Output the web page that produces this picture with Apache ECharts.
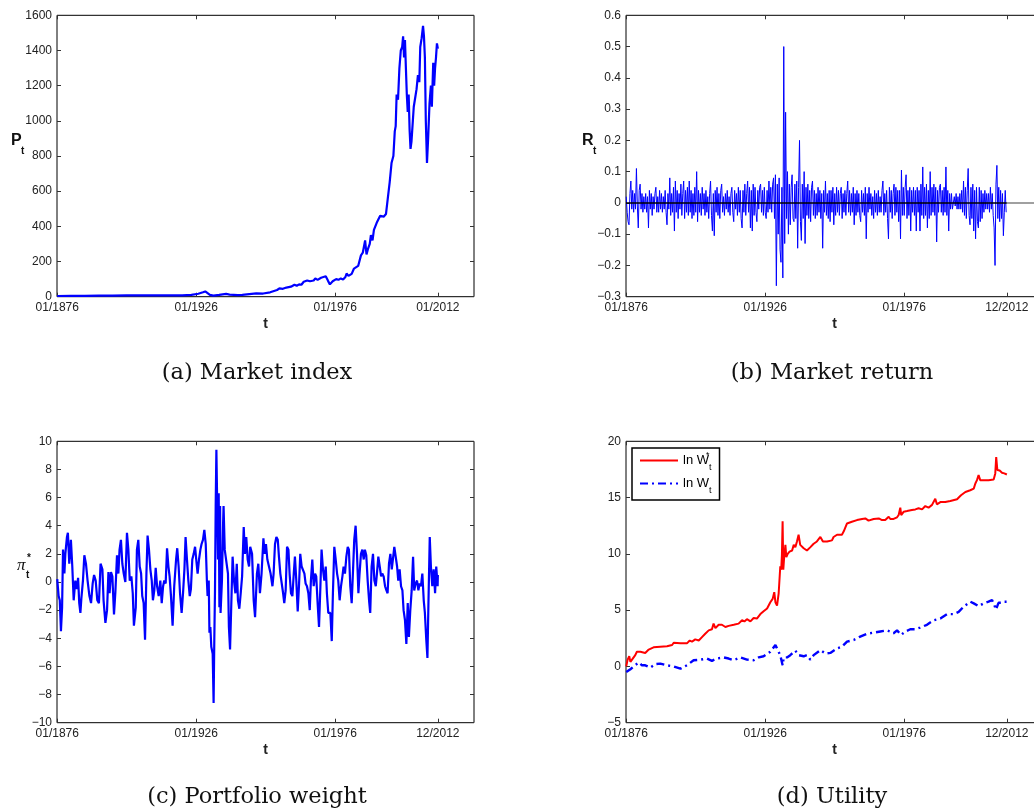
<!DOCTYPE html>
<html><head><meta charset="utf-8">
<script src="https://cdn.jsdelivr.net/npm/echarts@6/dist/echarts.min.js"></script>
<style>html,body{margin:0;padding:0;background:#fff}#c{width:1034px;height:811px}</style>
</head><body><div id="c"></div>
<script>
// ---------- axis ticks ----------
const xTickMonths = [1, 601, 1201, 1644];
const xTickLabelsA = ['01/1876', '01/1926', '01/1976', '01/2012'];
const xTickLabelsB = ['01/1876', '01/1926', '01/1976', '12/2012'];
const subCaptions = ['(a) Market index', '(b) Market return', '(c) Portfolio weight', '(d) Utility'];

// ---------- (a) market index: [month index, P_t] ----------
const indexPoints = [[1,4],[60,5],[120,5],[180,6],[240,6],[300,7],[360,7],[420,8],[480,7],[540,8],[580,10],[610,17],[630,25],[640,30],[648,22],[660,10],[675,6],[700,10],[730,16],[745,12],[780,9],[800,10],[830,15],[860,19],[890,18],[920,25],[950,38],[960,47],[975,45],[990,52],[1010,57],[1025,68],[1035,62],[1045,70],[1055,68],[1065,85],[1080,92],[1092,88],[1100,98],[1108,92],[1115,104],[1125,96],[1140,108],[1150,112],[1160,116],[1170,90],[1178,70],[1190,88],[1205,100],[1215,96],[1225,104],[1235,98],[1245,112],[1250,132],[1258,118],[1265,112],[1272,130],[1282,160],[1290,155],[1300,175],[1312,235],[1320,250],[1330,320],[1336,240],[1342,270],[1350,300],[1355,350],[1362,320],[1368,380],[1380,420],[1395,460],[1410,455],[1420,470],[1428,560],[1436,650],[1444,760],[1452,800],[1458,940],[1462,970],[1466,1150],[1472,1120],[1478,1300],[1484,1400],[1490,1420],[1494,1480],[1498,1360],[1502,1460],[1506,1300],[1510,1150],[1514,1050],[1518,1150],[1522,950],[1526,840],[1530,880],[1536,1000],[1540,1080],[1546,1130],[1552,1180],[1558,1260],[1564,1220],[1568,1420],[1574,1470],[1580,1540],[1584,1480],[1588,1360],[1592,1000],[1597,760],[1602,900],[1608,1100],[1614,1200],[1618,1080],[1624,1330],[1628,1200],[1632,1300],[1636,1360],[1640,1440],[1644,1410]];

// ---------- (b) market return: one value every 4 months starting at month 1 ----------
const returnStart = 1;
const returnStep = 4;
const returnValues = [
0.02,-0.03,-0.06,-0.07,0.03,0.07,-0.02,0.04,-0.03,0.03,
-0.02,0.11,-0.01,-0.08,0.04,0.06,-0.02,0.03,-0.03,0.02,
-0.02,0.03,-0.03,0.02,-0.08,0.04,-0.02,0.03,-0.04,0.02,
-0.02,0.03,0.05,-0.03,0.02,-0.03,0.04,-0.02,0.03,-0.03,
0.02,-0.02,0.04,-0.03,-0.07,0.03,-0.02,0.08,-0.04,0.03,
-0.03,0.05,-0.09,0.07,-0.03,0.04,-0.05,0.03,-0.02,0.06,
-0.04,0.03,0.07,-0.05,0.04,-0.03,0.05,-0.04,0.07,-0.03,
0.04,-0.05,0.03,-0.04,0.05,-0.03,0.10,-0.06,0.04,-0.03,
0.03,-0.04,0.05,-0.02,0.03,-0.04,0.04,-0.03,0.02,-0.05,
0.03,0.07,-0.04,-0.09,0.03,-0.105,0.04,-0.03,0.05,-0.04,
0.03,-0.05,0.04,0.06,-0.03,0.02,-0.04,0.03,-0.02,0.04,
-0.03,0.02,-0.04,0.03,0.05,-0.03,-0.06,0.04,-0.02,0.03,
-0.04,0.05,-0.03,0.04,-0.05,-0.08,0.04,-0.03,0.06,-0.04,
0.03,0.07,-0.03,0.05,-0.08,0.04,-0.09,0.06,-0.04,0.05,
-0.03,-0.06,0.04,-0.02,0.05,0.06,-0.03,0.04,-0.04,0.05,
-0.03,-0.05,0.04,-0.03,0.07,-0.02,0.05,-0.03,0.06,0.08,
-0.05,0.09,-0.265,0.06,-0.10,0.08,-0.15,-0.19,0.05,-0.24,
0.50,-0.13,0.29,-0.05,0.10,-0.10,0.06,-0.07,0.05,0.09,
-0.05,-0.06,0.06,-0.05,0.07,-0.145,0.05,0.20,-0.06,-0.12,
0.06,-0.05,0.10,-0.13,0.05,-0.04,0.06,-0.05,0.04,-0.06,
0.05,0.07,-0.04,0.04,-0.05,0.03,-0.04,0.05,-0.03,0.04,
-0.05,0.03,-0.145,0.04,-0.03,0.07,-0.04,0.03,-0.05,0.04,
-0.06,0.04,-0.03,0.05,-0.07,0.03,-0.04,0.05,-0.03,0.04,
-0.04,0.03,0.05,-0.05,0.03,-0.03,0.04,-0.04,0.03,0.07,
-0.03,0.04,-0.04,0.03,-0.03,0.05,-0.07,0.03,-0.04,0.04,
-0.03,0.03,-0.04,-0.06,0.04,-0.03,0.03,-0.04,0.05,-0.115,
0.03,-0.03,0.05,-0.02,0.03,-0.04,0.02,-0.05,0.04,-0.03,
0.03,-0.04,0.04,-0.03,0.02,-0.03,0.04,0.07,-0.04,0.03,
-0.03,0.04,-0.05,-0.115,0.05,-0.03,0.04,-0.05,0.03,0.06,
-0.04,0.05,-0.03,0.04,-0.06,0.04,-0.115,0.105,-0.04,0.05,
-0.04,0.05,0.09,-0.05,0.04,-0.04,0.05,-0.09,0.04,-0.03,
0.05,-0.04,0.04,-0.09,0.05,-0.03,0.04,-0.09,0.06,-0.04,
0.115,-0.05,0.05,-0.04,0.06,-0.08,0.04,-0.05,0.10,-0.04,
0.05,-0.03,0.06,-0.04,0.05,-0.125,0.04,-0.03,0.05,0.06,
-0.03,0.04,-0.04,0.05,-0.03,0.115,-0.04,0.04,-0.09,0.03,
-0.02,0.03,-0.02,-0.02,0.02,-0.01,0.03,-0.02,0.02,-0.02,
0.03,-0.02,0.04,-0.03,0.07,-0.04,0.05,-0.05,0.04,0.11,
-0.04,-0.07,0.05,-0.05,0.06,-0.09,0.04,-0.115,0.05,-0.06,
-0.08,0.05,-0.06,0.04,-0.05,0.03,-0.03,0.04,-0.02,0.03,
-0.02,0.03,-0.03,0.05,-0.02,0.03,-0.04,-0.08,-0.20,0.06,
0.12,-0.05,0.05,-0.06,0.04,-0.05,0.03,-0.105,-0.03,0.04,
-0.03];
const zeroLevel = 0;

// ---------- (c) portfolio weight: [month index, pi*_t] ----------
const weightPoints = [[1,0.2],[7,-1.0],[12,-1.3],[17,-3.5],[22,-1.8],[26,2.3],[32,0.6],[36,2.0],[43,3.2],[47,3.5],[53,1.3],[60,3.0],[66,1.1],[72,-1.3],[79,0.1],[86,-0.5],[91,0.3],[96,-1.5],[101,-2.2],[105,-1.2],[112,0.1],[118,1.9],[125,1.3],[132,0.1],[140,-1.0],[147,-1.5],[154,-0.1],[160,0.5],[167,0.1],[174,-1.3],[181,-1.5],[188,1.3],[196,0.9],[201,-1.3],[209,-2.9],[216,-2.0],[222,0.7],[227,-0.8],[233,0.7],[239,0.4],[246,-2.3],[252,-0.7],[259,1.9],[265,0.6],[270,2.3],[276,3.0],[282,1.3],[288,0.6],[295,0],[302,3.5],[308,2.3],[314,0.1],[321,0.4],[327,-0.8],[332,-3.1],[340,-1.8],[345,2.3],[351,3.0],[357,1.1],[363,0.6],[368,-1.0],[374,-1.5],[380,-4.1],[386,0.6],[391,3.3],[397,2.3],[403,0.9],[409,0.1],[414,-1.3],[420,-0.6],[426,1.0],[432,-0.3],[439,-1.0],[446,0.1],[452,-1.5],[458,-0.3],[463,0.1],[469,-0.1],[475,2.4],[481,1.1],[486,0.4],[492,-1.0],[499,-3.1],[506,-0.3],[514,1.6],[519,2.4],[525,1.1],[531,-0.8],[538,-2.2],[544,-0.8],[550,0.9],[555,3.2],[561,1.6],[567,0.1],[573,-1.0],[578,-0.5],[584,1.6],[590,2.0],[596,2.5],[601,1.6],[607,0.6],[613,1.6],[619,2.3],[624,2.7],[630,3.0],[636,3.7],[642,2.7],[647,0.1],[650,-1.0],[655,0.1],[658,-3.6],[662,-3.2],[666,-4.6],[672,-5.1],[676,-8.6],[679,-4.1],[682,-0.6],[685,5.4],[688,9.4],[692,9.4],[695,1.6],[698,6.3],[701,-1.8],[704,5.4],[706,-2.2],[712,0.1],[717,4.2],[719,5.4],[724,2.3],[731,2.3],[738,0.6],[742,-3.2],[747,-4.8],[752,-1.8],[758,1.8],[764,0.1],[770,-0.8],[776,1.3],[781,-1.3],[787,-1.9],[793,-0.8],[799,0.4],[806,3.9],[811,2.0],[817,3.2],[823,1.6],[829,1.1],[834,2.5],[842,2.0],[849,-1.3],[855,-2.5],[863,0.6],[869,1.3],[876,-0.8],[883,0.6],[891,3.1],[896,2.0],[902,2.7],[908,1.6],[915,1.1],[922,0.6],[930,-0.3],[935,0.6],[941,2.7],[947,3.2],[953,3.0],[958,1.8],[964,0.6],[970,-0.1],[976,-0.8],[981,-1.5],[987,-0.6],[993,2.5],[999,2.3],[1004,0.6],[1010,-0.8],[1016,-1.0],[1022,0.6],[1027,1.8],[1033,0.1],[1039,-2.1],[1045,-0.1],[1050,2.0],[1056,1.1],[1062,1.2],[1068,0.6],[1073,-0.1],[1079,-0.3],[1085,-0.8],[1091,-2.0],[1096,0.1],[1102,1.6],[1108,-0.3],[1114,0.6],[1119,0.4],[1125,-1.5],[1131,-3.2],[1137,-0.3],[1142,2.3],[1148,0.9],[1154,0.1],[1160,1.1],[1165,-0.8],[1171,-2.2],[1180,-2.2],[1186,-4.2],[1191,-0.8],[1197,2.5],[1203,1.6],[1209,0.6],[1214,0.1],[1220,-1.3],[1226,-0.3],[1232,0.4],[1237,1.1],[1243,0.6],[1249,1.8],[1255,2.5],[1260,2.3],[1266,-0.3],[1272,-1.5],[1278,0.9],[1283,3.0],[1289,4.0],[1295,2.0],[1301,-0.8],[1306,0.6],[1312,2.0],[1318,2.3],[1324,1.6],[1329,2.3],[1335,1.9],[1341,0.1],[1347,-1.3],[1352,-2.2],[1358,1.1],[1364,2.0],[1370,0.1],[1376,-0.3],[1381,0.6],[1387,1.8],[1393,1.1],[1399,0.4],[1404,0.6],[1410,0.4],[1416,-0.3],[1422,-0.6],[1427,-0.8],[1433,1.3],[1439,2.0],[1445,0.9],[1450,1.6],[1456,2.5],[1462,2.5],[1468,1.1],[1473,0.1],[1479,0.9],[1485,-0.3],[1491,-0.6],[1496,-2.0],[1502,-2.7],[1508,-4.4],[1514,-1.5],[1519,-3.9],[1525,-2.0],[1531,-0.6],[1537,1.8],[1542,-0.6],[1548,-0.1],[1554,0.1],[1560,-0.6],[1565,-0.1],[1571,-0.3],[1577,0.6],[1583,-1.3],[1588,-2.2],[1594,-4.1],[1599,-5.4],[1603,-1.8],[1609,3.2],[1614,1.1],[1620,-0.3],[1626,0.9],[1632,-0.8],[1637,1.1],[1643,-0.3],[1644,0.5]];

// ---------- (d) utility: [month index, ln W*_t] and [month index, ln W_t] ----------
const optWealthPoints = [[1,0],[7,0.6],[14,0.9],[19,0.4],[26,0.6],[40,1.0],[47,1.3],[55,1.2],[62,1.3],[69,1.2],[83,1.2],[98,1.5],[119,1.7],[148,1.75],[177,1.8],[199,1.9],[206,2.1],[213,2.0],[235,2.05],[263,2.05],[275,2.3],[285,2.2],[299,2.4],[314,2.3],[328,2.6],[342,2.9],[357,3.2],[371,3.3],[378,3.8],[386,3.4],[400,3.7],[414,3.7],[429,3.5],[443,3.6],[465,3.7],[486,3.8],[501,4.1],[511,4.0],[522,4.2],[537,4.0],[551,4.3],[565,4.25],[580,4.65],[594,4.9],[609,5.15],[623,5.7],[633,6.0],[640,6.6],[645,5.7],[652,5.4],[659,6.5],[666,8.9],[670,8.6],[673,9.9],[676,12.9],[679,8.6],[682,9.5],[688,10.8],[692,9.7],[698,10.0],[706,10.2],[717,10.3],[724,10.8],[731,10.6],[738,11.1],[745,11.7],[752,10.8],[767,10.5],[781,10.3],[796,10.6],[810,10.9],[824,11.1],[839,11.5],[850,11.1],[868,11.1],[889,11.2],[896,11.5],[911,11.7],[932,11.7],[940,12.0],[954,12.7],[975,12.85],[997,13.0],[1019,13.1],[1033,13.15],[1047,12.95],[1069,13.1],[1091,13.15],[1105,13.0],[1119,13.0],[1134,13.3],[1141,13.1],[1155,13.1],[1170,13.25],[1177,13.45],[1184,14.1],[1188,13.45],[1199,13.75],[1213,13.8],[1234,13.9],[1249,13.95],[1263,14.05],[1278,13.95],[1292,14.25],[1306,14.1],[1321,14.35],[1335,14.9],[1342,14.4],[1357,14.6],[1378,14.6],[1400,14.7],[1429,14.85],[1446,15.2],[1465,15.5],[1486,15.65],[1501,15.8],[1508,16.25],[1515,16.55],[1522,17.0],[1529,16.55],[1544,16.55],[1565,16.55],[1587,16.6],[1594,17.15],[1598,18.6],[1603,17.45],[1613,17.4],[1623,17.2],[1633,17.15],[1644,17.05]];
const wealthPoints = [[1,-0.5],[7,-0.5],[19,-0.25],[33,0],[55,0.35],[69,0.1],[83,0.1],[105,-0.1],[127,0.2],[148,0.25],[177,0.1],[206,0],[235,-0.2],[263,0.1],[292,0.55],[321,0.6],[350,0.7],[371,0.5],[393,0.7],[422,0.8],[443,0.7],[465,0.55],[494,0.8],[522,0.6],[551,0.55],[573,0.8],[594,0.9],[623,1.3],[645,1.9],[655,1.45],[666,1.0],[676,0.1],[681,0.8],[695,0.8],[709,1.0],[731,1.4],[745,1.0],[767,0.9],[781,1.0],[796,0.6],[810,1.0],[839,1.45],[860,1.15],[882,1.2],[911,1.6],[932,1.75],[954,2.2],[983,2.35],[1011,2.65],[1040,2.9],[1069,3.0],[1098,3.1],[1127,3.2],[1155,2.95],[1170,3.2],[1187,2.8],[1206,3.1],[1227,3.3],[1249,3.3],[1270,3.45],[1299,3.7],[1328,4.1],[1357,4.25],[1386,4.65],[1414,4.65],[1436,4.85],[1457,5.3],[1486,5.75],[1501,5.6],[1522,5.35],[1544,5.6],[1565,5.75],[1580,5.9],[1590,5.45],[1597,5.05],[1608,5.65],[1623,5.65],[1633,5.75],[1644,5.75]];

// ---------- build chart ----------
const returnPoints = returnValues.map((v, i) => [returnStart + returnStep * i, v]);
const FONT = '"Liberation Sans", Arial, Helvetica, sans-serif';
const SERIF = '"DejaVu Serif", serif';
const X_MAX = 1800;

const gridBoxes = [
  {left: 57, top: 15.3, width: 417, height: 281.4},
  {left: 626, top: 15.3, width: 417, height: 281.4},
  {left: 57, top: 441.3, width: 417, height: 281.4},
  {left: 626, top: 441.3, width: 417, height: 281.4}
];
const yRanges = [
  {min: 0, max: 1600, interval: 200},
  {min: -0.3, max: 0.6, interval: 0.1},
  {min: -10, max: 10, interval: 2},
  {min: -5, max: 20, interval: 5}
];
const xLabelSets = [xTickLabelsA, xTickLabelsB, xTickLabelsB, xTickLabelsB];

function fmtNum(v) {
  const r = Math.round(v * 1000) / 1000;
  return String(r).replace('-', '\u2212');
}

const grid = gridBoxes.map(g => Object.assign({show: true, borderColor: '#000', borderWidth: 1, backgroundColor: '#fff',
  containLabel: false, outerBoundsMode: 'none'}, g));
const xAxis = [], yAxis = [];
const tickStyle = {color: '#333', width: 1};
gridBoxes.forEach((g, i) => {
  const labels = xLabelSets[i];
  xAxis.push({
    gridIndex: i, type: 'value', min: 0, max: X_MAX, position: 'bottom',
    axisLine: {show: false, onZero: false}, splitLine: {show: false},
    axisTick: {show: true, inside: true, length: 4, customValues: xTickMonths, lineStyle: tickStyle},
    axisLabel: {show: true, customValues: xTickMonths, formatter: v => labels[xTickMonths.indexOf(v)] || '',
      fontSize: 12, color: '#222', margin: 5, fontFamily: FONT},
    name: 't', nameLocation: 'middle', nameGap: 20,
    nameTextStyle: {fontWeight: 'bold', fontSize: 14, color: '#222', fontFamily: FONT}
  });
  xAxis.push({
    gridIndex: i, type: 'value', min: 0, max: X_MAX, position: 'top',
    axisLine: {show: false, onZero: false}, splitLine: {show: false},
    axisTick: {show: true, inside: true, length: 4, customValues: xTickMonths, lineStyle: tickStyle},
    axisLabel: {show: false}
  });
  const yr = yRanges[i];
  yAxis.push({
    gridIndex: i, type: 'value', min: yr.min, max: yr.max, interval: yr.interval, position: 'left',
    axisLine: {show: false, onZero: false}, splitLine: {show: false},
    axisTick: {show: true, inside: true, length: 4, lineStyle: tickStyle},
    axisLabel: {show: true, formatter: fmtNum, fontSize: 12, color: '#222', margin: 5, fontFamily: FONT}
  });
  yAxis.push({
    gridIndex: i, type: 'value', min: yr.min, max: yr.max, interval: yr.interval, position: 'right',
    axisLine: {show: false, onZero: false}, splitLine: {show: false},
    axisTick: {show: true, inside: true, length: 4, lineStyle: tickStyle},
    axisLabel: {show: false}
  });
});

const lastReturnMonth = returnPoints[returnPoints.length - 1][0] + 3;
const series = [
  {type: 'line', name: 'P', xAxisIndex: 0, yAxisIndex: 0, data: indexPoints, symbol: 'none',
    lineStyle: {color: '#0000ff', width: 2.2}, itemStyle: {color: '#0000ff'}, z: 3},
  {type: 'line', name: 'R', xAxisIndex: 2, yAxisIndex: 2, data: returnPoints, symbol: 'none',
    lineStyle: {color: '#0000ff', width: 1}, itemStyle: {color: '#0000ff'}, z: 3,
    markLine: {silent: true, symbol: 'none', label: {show: false}, animation: false,
      lineStyle: {type: 'solid', width: 1.6},
      data: [
        [{coord: [0, zeroLevel], lineStyle: {color: '#000', type: 'solid', width: 1.6}}, {coord: [lastReturnMonth, zeroLevel]}],
        [{coord: [lastReturnMonth, zeroLevel], lineStyle: {color: '#808080', type: 'solid', width: 1.6}}, {coord: [X_MAX, zeroLevel]}]
      ]}},
  {type: 'line', name: 'pi', xAxisIndex: 4, yAxisIndex: 4, data: weightPoints, symbol: 'none',
    lineStyle: {color: '#0000ff', width: 2.2}, itemStyle: {color: '#0000ff'}, z: 3},
  {type: 'line', name: 'lnWstar', xAxisIndex: 6, yAxisIndex: 6, data: optWealthPoints, symbol: 'none',
    lineStyle: {color: '#ff0000', width: 2}, itemStyle: {color: '#ff0000'}, z: 3},
  {type: 'line', name: 'lnW', xAxisIndex: 6, yAxisIndex: 6, data: wealthPoints, symbol: 'none',
    lineStyle: {color: '#0000ff', width: 2.4, type: [8, 4, 2, 4]}, itemStyle: {color: '#0000ff'}, z: 3}
];

const graphic = [
  // y-axis names
  {type: 'text', x: 11, y: 141, style: {text: 'P', font: 'bold 16px ' + FONT, fill: '#111', verticalAlign: 'middle'}},
  {type: 'text', x: 21, y: 151, style: {text: 't', font: 'bold 10px ' + FONT, fill: '#111', verticalAlign: 'middle'}},
  {type: 'text', x: 582, y: 141, style: {text: 'R', font: 'bold 16px ' + FONT, fill: '#111', verticalAlign: 'middle'}},
  {type: 'text', x: 593, y: 151, style: {text: 't', font: 'bold 10px ' + FONT, fill: '#111', verticalAlign: 'middle'}},
  {type: 'text', x: 17, y: 566, style: {text: 'π', font: 'italic 17px "Liberation Serif", serif', fill: '#111', verticalAlign: 'middle'}},
  {type: 'text', x: 26, y: 575, style: {text: 't', font: 'bold 10px ' + FONT, fill: '#111', verticalAlign: 'middle'}},
  {type: 'text', x: 27, y: 558, style: {text: '*', font: 'bold 10px ' + FONT, fill: '#111', verticalAlign: 'middle'}},
  // legend superscript
  {type: 'text', x: 706, y: 456, z: 100, style: {text: '*', font: '9px ' + FONT, fill: '#000', verticalAlign: 'middle'}},
  // sub-captions
  {type: 'text', x: 257, y: 373, style: {text: subCaptions[0], font: '22.5px ' + SERIF, fill: '#111', align: 'center', verticalAlign: 'middle'}},
  {type: 'text', x: 832, y: 373, style: {text: subCaptions[1], font: '22.5px ' + SERIF, fill: '#111', align: 'center', verticalAlign: 'middle'}},
  {type: 'text', x: 257, y: 797, style: {text: subCaptions[2], font: '22.5px ' + SERIF, fill: '#111', align: 'center', verticalAlign: 'middle'}},
  {type: 'text', x: 832, y: 797, style: {text: subCaptions[3], font: '22.5px ' + SERIF, fill: '#111', align: 'center', verticalAlign: 'middle'}}
];

const chart = echarts.init(document.getElementById('c'), null, {renderer: 'canvas'});
chart.setOption({
  animation: false,
  backgroundColor: '#fff',
  grid, xAxis, yAxis, series, graphic,
  legend: {
    data: ['lnWstar', 'lnW'], orient: 'vertical', left: 632, top: 448,
    backgroundColor: '#fff', borderColor: '#000', borderWidth: 1.5, borderRadius: 0,
    padding: [6, 8, 5, 7], itemGap: 5, itemWidth: 38, itemHeight: 14,
    selectedMode: false,
    itemStyle: {opacity: 0},
    formatter: name => '{a|ln W}{b|t}',
    textStyle: {fontFamily: FONT, color: '#000',
      rich: {a: {fontSize: 13, fontFamily: FONT, color: '#000'}, b: {fontSize: 9, fontFamily: FONT, color: '#000', padding: [14, 0, 0, 0]}}}
  }
});
</script></body></html>
